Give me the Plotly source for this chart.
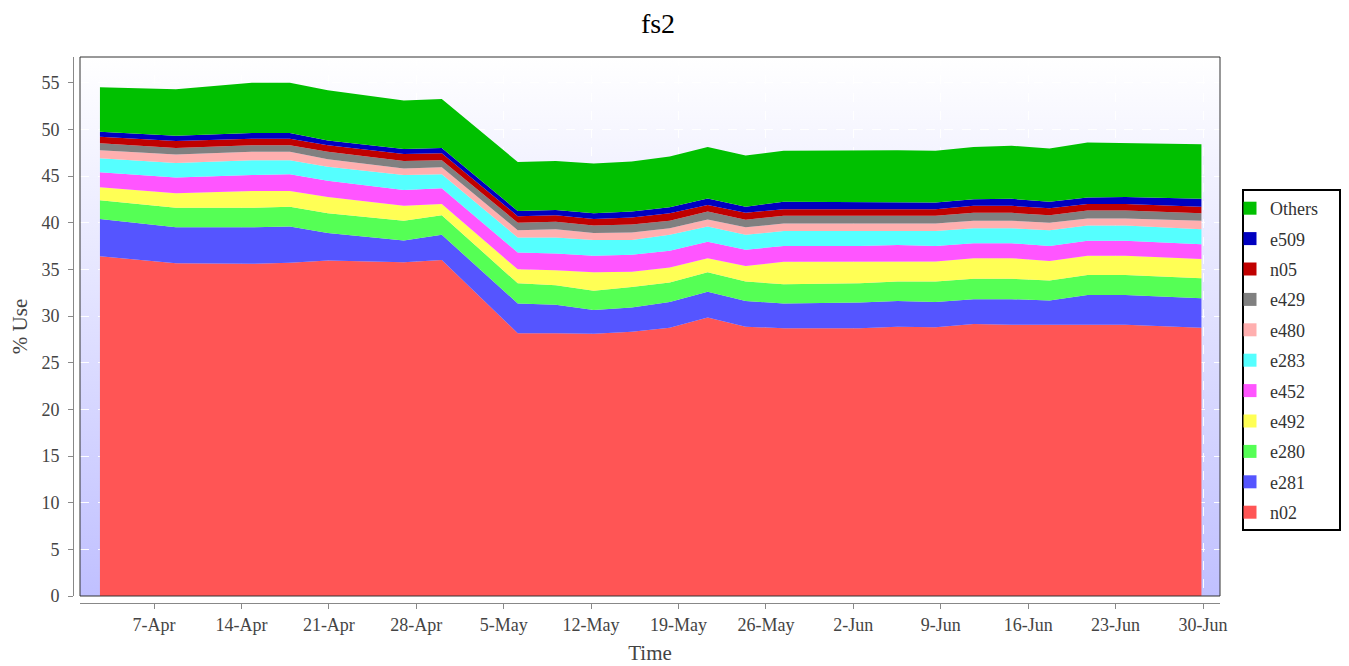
import base64
import plotly.graph_objects as go

# ---- data ----
dates = ["2013-04-02 16:00", "2013-04-08 18:00", "2013-04-14 20:00", "2013-04-17 21:00",
         "2013-04-20 22:00", "2013-04-27 00:00", "2013-04-30 01:00", "2013-05-06 03:00",
         "2013-05-09 04:00", "2013-05-12 05:00", "2013-05-15 06:00", "2013-05-18 07:00",
         "2013-05-21 08:00", "2013-05-24 09:00", "2013-05-27 10:00", "2013-06-02 12:00",
         "2013-06-05 13:00", "2013-06-08 14:00", "2013-06-11 15:00", "2013-06-14 16:00",
         "2013-06-17 17:00", "2013-06-20 18:00", "2013-06-23 19:00", "2013-06-29 21:00"]

n02 = [36.4, 35.65, 35.6, 35.7, 35.95, 35.75, 36.0, 28.15, 28.15, 28.1, 28.3, 28.75,
       29.85, 28.85, 28.7, 28.7, 28.85, 28.8, 29.15, 29.05, 29.05, 29.05, 29.05, 28.75]
e281 = [4.0, 3.85, 3.9, 3.9, 2.95, 2.35, 2.7, 3.2, 3.05, 2.55, 2.6, 2.75,
        2.75, 2.75, 2.65, 2.75, 2.75, 2.7, 2.65, 2.75, 2.6, 3.2, 3.2, 3.15]
e280 = [2.0, 2.1, 2.1, 2.1, 2.1, 2.1, 2.1, 2.15, 2.1, 2.05, 2.2, 2.1,
        2.1, 2.1, 2.05, 2.05, 2.1, 2.2, 2.2, 2.2, 2.15, 2.15, 2.15, 2.15]
e492 = [1.4, 1.55, 1.8, 1.7, 1.75, 1.6, 1.2, 1.5, 1.6, 2.0, 1.65, 1.6,
        1.5, 1.65, 2.4, 2.35, 2.2, 2.15, 2.2, 2.2, 2.1, 2.05, 2.05, 2.05]
e452 = [1.6, 1.7, 1.7, 1.8, 1.75, 1.7, 1.7, 1.8, 1.8, 1.75, 1.8, 1.8,
        1.75, 1.75, 1.7, 1.65, 1.7, 1.65, 1.6, 1.6, 1.6, 1.6, 1.6, 1.6]
e283 = [1.5, 1.55, 1.6, 1.5, 1.5, 1.6, 1.5, 1.6, 1.7, 1.7, 1.6, 1.7,
        1.65, 1.6, 1.6, 1.6, 1.5, 1.6, 1.6, 1.6, 1.7, 1.65, 1.65, 1.6]
e480 = [0.85, 0.9, 0.9, 0.9, 0.8, 0.7, 0.75, 0.8, 0.9, 0.75, 0.8, 0.7,
        0.75, 0.8, 0.8, 0.8, 0.8, 0.8, 0.8, 0.8, 0.8, 0.75, 0.75, 0.9]
e429 = [0.75, 0.7, 0.7, 0.7, 0.8, 0.8, 0.75, 0.8, 0.8, 0.8, 0.85, 0.8,
        0.85, 0.8, 0.85, 0.85, 0.85, 0.85, 0.85, 0.85, 0.8, 0.85, 0.85, 0.8]
n05 = [0.7, 0.75, 0.7, 0.7, 0.7, 0.75, 0.75, 0.7, 0.7, 0.7, 0.75, 0.8,
       0.7, 0.75, 0.7, 0.7, 0.7, 0.7, 0.75, 0.75, 0.75, 0.7, 0.7, 0.7]
e509 = [0.55, 0.55, 0.6, 0.6, 0.5, 0.55, 0.55, 0.55, 0.55, 0.6, 0.65, 0.65,
        0.7, 0.65, 0.8, 0.75, 0.75, 0.7, 0.7, 0.75, 0.7, 0.7, 0.75, 0.85]
others = [4.75, 5.0, 5.4, 5.4, 5.4, 5.2, 5.25, 5.25, 5.25, 5.35, 5.35, 5.45,
          5.5, 5.5, 5.45, 5.55, 5.55, 5.55, 5.6, 5.7, 5.7, 5.9, 5.8, 5.85]

series_names = ["n02", "e281", "e280", "e492", "e452", "e283", "e480", "e429", "n05", "e509", "Others"]
series_values = [n02, e281, e280, e492, e452, e283, e480, e429, n05, e509, others]
series_colors = ["#FF5555", "#5555FF", "#55FF55", "#FFFF55", "#FF55FF", "#55FFFF",
                 "#FFAFAF", "#808080", "#C00000", "#0000C0", "#00C000"]

FONT = "Liberation Serif"

fig = go.Figure()
n = len(series_names)
for name, vals, col in zip(series_names, series_values, series_colors):
    fig.add_trace(go.Scatter(
        x=dates, y=vals, name=name, mode="lines", stackgroup="one",
        line=dict(width=0, color=col), fillcolor=col, showlegend=False,
    ))
# legend entries (square swatches, top series first)
for i, (name, col) in enumerate(zip(series_names, series_colors)):
    fig.add_trace(go.Scatter(
        x=[None], y=[None], name=name, mode="markers",
        marker=dict(symbol="square", size=13, color=col, line=dict(width=0)),
        legendgroup=name, legendrank=n - i, showlegend=True,
    ))

# gradient background for the plot area
svg = ('<svg xmlns="http://www.w3.org/2000/svg" width="10" height="100" preserveAspectRatio="none">'
       '<defs><linearGradient id="g" x1="0" y1="0" x2="0" y2="1">'
       '<stop offset="0" stop-color="#ffffff"/><stop offset="1" stop-color="#c0c0ff"/>'
       '</linearGradient></defs><rect width="10" height="100" fill="url(#g)"/></svg>')
src = "data:image/svg+xml;base64," + base64.b64encode(svg.encode()).decode()

# page body adds an 8px offset; figure coordinates = screen - 8
OFF = 8
FW, FH = 1349 - OFF, 666 - OFF
L, T = 73 - OFF, 57 - OFF
R = FW - (1220 - OFF)
B = FH - (603 - OFF)
pw = FW - L - R
ph = FH - T - B
xd0 = 7 / pw
yd0 = 7 / ph


def px_x(sx):
    return (sx - OFF - L) / pw


def px_y(sy):
    return (FH - B - (sy - OFF)) / ph


fig.update_layout(
    width=FW, height=FH,
    margin=dict(l=L, r=R, t=T, b=B, pad=0, autoexpand=False),
    paper_bgcolor="white", plot_bgcolor="rgba(0,0,0,0)",
    font=dict(family=FONT, color="#444444"),
    title=dict(text="fs2", x=(658 - OFF) / FW, xanchor="center", xref="container",
               y=1, yref="container", yanchor="top", pad=dict(t=5, b=0, l=0, r=0),
               font=dict(family=FONT, size=28, color="#000000")),
    images=[dict(source=src, xref="paper", yref="paper", x=xd0, y=1,
                 sizex=1 - xd0, sizey=1 - yd0, sizing="stretch",
                 xanchor="left", yanchor="top", layer="below")],
    xaxis=dict(domain=[xd0, 1], anchor="free", position=0, automargin=False,
               type="date", range=["2013-04-01 01:40", "2013-07-01 08:40"],
               tickmode="linear", tick0="2013-04-07", dtick=7 * 86400000,
               tickformat="%-d-%b", ticks="outside", ticklen=5, tickcolor="#888888",
               showline=True, linecolor="#888888", linewidth=1,
               showgrid=True, gridcolor="rgba(255,255,255,0.95)", griddash="dash", gridwidth=1,
               tickfont=dict(family=FONT, size=18, color="#444444"),
               title=dict(text="Time", standoff=11, font=dict(family=FONT, size=21, color="#444444")),
               zeroline=False),
    yaxis=dict(domain=[yd0, 1], anchor="free", position=0, automargin=False,
               range=[0, 57.75], tickmode="linear", tick0=0, dtick=5,
               ticks="outside", ticklen=5, tickcolor="#888888", ticklabelstandoff=5,
               showline=True, linecolor="#888888", linewidth=1,
               showgrid=True, gridcolor="rgba(255,255,255,0.95)", griddash="dash", gridwidth=1,
               tickfont=dict(family=FONT, size=18, color="#444444"),
               title=dict(text="% Use", standoff=11, font=dict(family=FONT, size=21, color="#444444")),
               zeroline=False),
    legend=dict(x=px_x(1230), xanchor="left", y=px_y(190), yanchor="top",
                traceorder="grouped", tracegroupgap=4, itemwidth=30,
                borderwidth=0, bgcolor="rgba(0,0,0,0)",
                font=dict(family=FONT, size=18, color="#333333")),
    shapes=[
        dict(type="rect", xref="x domain", yref="y domain", x0=0, x1=1, y0=0, y1=1,
             line=dict(color="#333333", width=1), fillcolor="rgba(0,0,0,0)", layer="above"),
        dict(type="rect", xref="paper", yref="paper", x0=px_x(1243), x1=px_x(1340),
             y0=px_y(530), y1=px_y(190), line=dict(color="#000000", width=2),
             fillcolor="white", layer="above"),
    ],
    showlegend=True,
)

fig.write_html("out.html")
